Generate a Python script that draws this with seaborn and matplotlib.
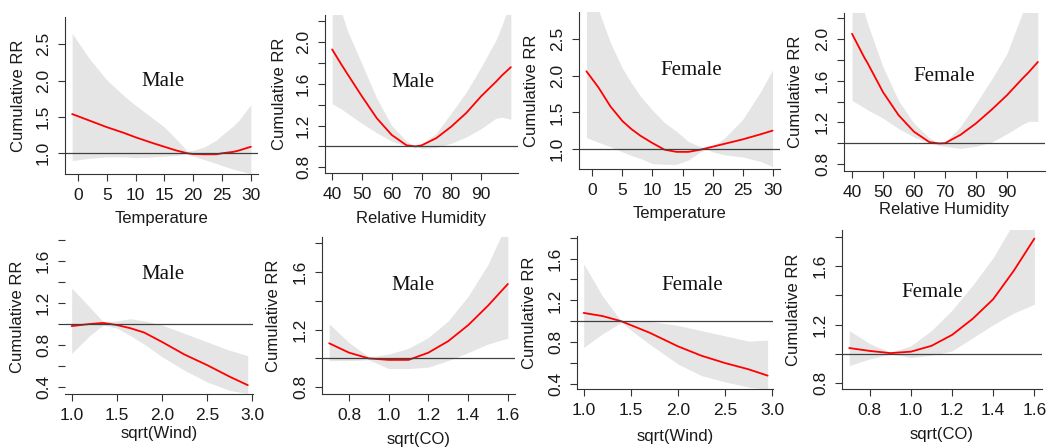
import numpy as np
import pandas as pd
import matplotlib
matplotlib.use("Agg")
import matplotlib.pyplot as plt
import seaborn as sns

# values (RR with lower / upper bounds)

# Temperature, male
temp_m_x = [-1, 2, 5, 8, 10, 13, 15, 17, 19, 20, 22, 24, 25, 27, 28, 30]
temp_m_rr = [1.54, 1.45, 1.36, 1.28, 1.22, 1.14, 1.09, 1.04, 1.0, 0.99, 0.986, 0.986, 1.0, 1.02, 1.04, 1.09]
temp_m_lo = [0.90, 0.93, 0.95, 0.95, 0.94, 0.95, 0.96, 0.97, 0.99, 0.96, 0.91, 0.86, 0.83, 0.78, 0.76, 0.72]
temp_m_hi = [2.65, 2.30, 2.01, 1.79, 1.66, 1.48, 1.36, 1.20, 1.03, 1.04, 1.09, 1.18, 1.25, 1.38, 1.46, 1.67]

# Relative humidity, male
rh_m_x = [40, 43, 45, 50, 55, 60, 65, 68, 70, 75, 80, 85, 90, 95, 97, 100]
rh_m_rr = [1.93, 1.79, 1.70, 1.48, 1.27, 1.11, 1.01, 1.0, 1.01, 1.08, 1.19, 1.32, 1.48, 1.62, 1.68, 1.76]
rh_m_lo = [1.41, 1.36, 1.32, 1.22, 1.13, 1.05, 1.0, 0.995, 0.98, 0.99, 1.03, 1.09, 1.17, 1.27, 1.28, 1.26]
rh_m_hi = [2.70, 2.30, 2.12, 1.79, 1.46, 1.20, 1.05, 1.0, 1.01, 1.13, 1.32, 1.52, 1.76, 2.02, 2.16, 2.40]

# Temperature, female
temp_f_x = [-1, 1, 3, 5, 6.5, 8, 10, 12, 14, 16, 18, 19, 20, 22, 25, 28, 30]
temp_f_rr = [2.06, 1.84, 1.58, 1.38, 1.27, 1.18, 1.08, 0.99, 0.96, 0.96, 0.99, 1.01, 1.03, 1.07, 1.13, 1.20, 1.25]
temp_f_lo = [1.155, 1.09, 1.03, 0.96, 0.91, 0.87, 0.80, 0.79, 0.79, 0.85, 0.96, 1.0, 0.96, 0.92, 0.89, 0.83, 0.76]
temp_f_hi = [3.40, 2.90, 2.45, 2.10, 1.90, 1.72, 1.53, 1.36, 1.24, 1.10, 1.03, 1.01, 1.03, 1.15, 1.40, 1.78, 2.08]

# Relative humidity, female
rh_f_x = [40, 44, 45, 50, 55, 60, 65, 68, 70, 75, 80, 85, 90, 95, 97, 100]
rh_f_rr = [2.05, 1.82, 1.77, 1.49, 1.27, 1.11, 1.01, 0.998, 1.0, 1.08, 1.19, 1.32, 1.46, 1.62, 1.68, 1.78]
rh_f_lo = [1.41, 1.34, 1.32, 1.24, 1.14, 1.06, 1.0, 0.98, 0.97, 0.95, 0.97, 1.01, 1.09, 1.18, 1.21, 1.21]
rh_f_hi = [2.80, 2.25, 2.15, 1.73, 1.41, 1.19, 1.05, 1.0, 1.01, 1.16, 1.38, 1.61, 1.86, 2.25, 2.40, 2.60]

# sqrt(Wind), male
wind_m_x = [1.0, 1.2, 1.35, 1.5, 1.65, 1.8, 2.0, 2.25, 2.5, 2.75, 2.95]
wind_m_rr = [0.98, 1.0, 1.01, 0.99, 0.96, 0.92, 0.83, 0.71, 0.61, 0.50, 0.42]
wind_m_lo = [0.72, 0.89, 0.99, 0.96, 0.89, 0.81, 0.69, 0.56, 0.45, 0.37, 0.34]
wind_m_hi = [1.34, 1.16, 1.02, 1.03, 1.05, 1.03, 0.99, 0.91, 0.83, 0.75, 0.70]

# sqrt(CO), male
co_m_x = [0.7, 0.8, 0.9, 1.0, 1.1, 1.2, 1.3, 1.4, 1.5, 1.6]
co_m_rr = [1.105, 1.04, 1.0, 0.99, 0.99, 1.04, 1.12, 1.23, 1.365, 1.515]
co_m_lo = [0.985, 0.985, 0.99, 0.93, 0.93, 0.94, 0.985, 1.04, 1.10, 1.14]
co_m_hi = [1.24, 1.11, 1.01, 1.03, 1.07, 1.145, 1.26, 1.43, 1.65, 1.95]

# sqrt(Wind), female
wind_f_x = [1.0, 1.2, 1.4, 1.55, 1.7, 2.0, 2.25, 2.5, 2.75, 2.95]
wind_f_rr = [1.08, 1.05, 1.0, 0.945, 0.89, 0.76, 0.67, 0.60, 0.54, 0.48]
wind_f_lo = [0.75, 0.88, 0.99, 0.88, 0.78, 0.59, 0.48, 0.42, 0.37, 0.35]
wind_f_hi = [1.55, 1.24, 1.0, 1.01, 1.0, 0.96, 0.91, 0.86, 0.81, 0.82]

# sqrt(CO), female
co_f_x = [0.7, 0.8, 0.9, 1.0, 1.1, 1.2, 1.3, 1.4, 1.5, 1.6]
co_f_rr = [1.04, 1.02, 1.005, 1.015, 1.055, 1.13, 1.24, 1.375, 1.57, 1.79]
co_f_lo = [0.92, 0.965, 1.0, 0.975, 0.99, 1.02, 1.11, 1.20, 1.28, 1.34]
co_f_hi = [1.16, 1.07, 1.01, 1.055, 1.16, 1.30, 1.47, 1.66, 1.90, 2.20]

x_labels = ["Temperature", "Relative Humidity", "Temperature", "Relative Humidity",
            "sqrt(Wind)", "sqrt(CO)", "sqrt(Wind)", "sqrt(CO)"]
sex_labels = ["Male", "Male", "Female", "Female", "Male", "Male", "Female", "Female"]

series = [
    (temp_m_x, temp_m_rr, temp_m_lo, temp_m_hi),
    (rh_m_x, rh_m_rr, rh_m_lo, rh_m_hi),
    (temp_f_x, temp_f_rr, temp_f_lo, temp_f_hi),
    (rh_f_x, rh_f_rr, rh_f_lo, rh_f_hi),
    (wind_m_x, wind_m_rr, wind_m_lo, wind_m_hi),
    (co_m_x, co_m_rr, co_m_lo, co_m_hi),
    (wind_f_x, wind_f_rr, wind_f_lo, wind_f_hi),
    (co_f_x, co_f_rr, co_f_lo, co_f_hi),
]

# layout of each panel (pixel box, limits, ticks, label spots)
W, H = 1056, 448
panels = [
    dict(box=(65, 17, 258, 174), xlim=(-2.24, 31.24), ylim=(0.715, 2.875),
         xt=[0, 5, 10, 15, 20, 25, 30], yt=[1.0, 1.5, 2.0, 2.5], every=1,
         title=(0.508, 0.59), ylab=19, xlab=218),
    dict(box=(325, 15, 518, 173), xlim=(37.6, 102.4), ylim=(0.745, 2.26),
         xt=[40, 50, 60, 70, 80, 90], yt=[0.8, 1.0, 1.2, 1.4, 1.6, 1.8, 2.0, 2.2], every=2,
         title=(0.457, 0.57), ylab=279, xlab=218),
    dict(box=(579, 12, 780, 169), xlim=(-2.24, 31.24), ylim=(0.726, 2.87),
         xt=[0, 5, 10, 15, 20, 25, 30], yt=[1.0, 1.5, 2.0, 2.5], every=1,
         title=(0.559, 0.63), ylab=531, xlab=213),
    dict(box=(844, 13, 1045, 171), xlim=(37.4, 102.3), ylim=(0.733, 2.25),
         xt=[40, 50, 60, 70, 80, 90], yt=[0.8, 1.0, 1.2, 1.4, 1.6, 1.8, 2.0, 2.2], every=2,
         title=(0.496, 0.597), ylab=796, xlab=209),
    dict(box=(65, 239, 253, 394), xlim=(0.926, 3.008), ylim=(0.336, 1.806),
         xt=[1.0, 1.5, 2.0, 2.5, 3.0], yt=[0.4, 0.6, 0.8, 1.0, 1.2, 1.4, 1.6, 1.8], every=2,
         title=(0.523, 0.77), ylab=18, xlab=433),
    dict(box=(322, 237, 515, 394), xlim=(0.664, 1.636), ylim=(0.754, 1.84),
         xt=[0.8, 1.0, 1.2, 1.4, 1.6], yt=[0.8, 1.0, 1.2, 1.4, 1.6, 1.8], every=2,
         title=(0.473, 0.694), ylab=274, xlab=439),
    dict(box=(577, 236, 773, 389), xlim=(0.929, 3.007), ylim=(0.352, 1.816),
         xt=[1.0, 1.5, 2.0, 2.5, 3.0], yt=[0.4, 0.6, 0.8, 1.0, 1.2, 1.4, 1.6, 1.8], every=2,
         title=(0.588, 0.678), ylab=530, xlab=436),
    dict(box=(842, 230, 1042, 389), xlim=(0.665, 1.637), ylim=(0.759, 1.849),
         xt=[0.8, 1.0, 1.2, 1.4, 1.6], yt=[0.8, 1.0, 1.2, 1.4, 1.6, 1.8], every=2,
         title=(0.45, 0.608), ylab=794, xlab=434),
]

sns.set_theme(style="ticks")
plt.rcParams["font.family"] = ["Liberation Sans", "DejaVu Sans"]
plt.rcParams["axes.edgecolor"] = "#333333"
plt.rcParams["xtick.color"] = "#333333"
plt.rcParams["ytick.color"] = "#333333"

fig = plt.figure(figsize=(W / 100, H / 100), dpi=100)
fig.patch.set_facecolor("white")

for i, (p, (x, rr, lo, hi)) in enumerate(zip(panels, series)):
    l, t, r, b = p["box"]
    ax = fig.add_axes([l / W, 1 - b / H, (r - l) / W, (b - t) / H])
    ax.set_facecolor("white")

    df = pd.DataFrame({"x": x, "rr": rr, "lo": lo, "hi": hi})
    ax.fill_between(df["x"], df["lo"], df["hi"], color="#e5e5e5", linewidth=0)
    sns.lineplot(data=df, x="x", y="rr", color="red", linewidth=1.3, ax=ax)
    ax.axhline(1.0, color="#404040", linewidth=0.9)

    ax.set_xlim(*p["xlim"])
    ax.set_ylim(*p["ylim"])
    ax.set_xticks(p["xt"])
    ax.set_xticklabels([f"{v:g}" if i in (0, 1, 2, 3) else f"{v:.1f}" for v in p["xt"]])
    ax.set_yticks(p["yt"])
    if p["every"] == 1:
        ax.set_yticklabels([f"{v:.1f}" for v in p["yt"]])
    else:
        ax.set_yticklabels([f"{v:.1f}" if round(v * 10) % 4 == 0 else "" for v in p["yt"]])
    ax.tick_params(axis="both", direction="out", length=5, width=0.8, labelsize=12.5,
                   pad=5, labelcolor="#1a1a1a")
    ax.tick_params(axis="y", labelrotation=90)
    for lab in ax.get_yticklabels():
        lab.set_va("center")
    ax.set_xlabel("")
    ax.set_ylabel("")
    sns.despine(ax=ax)
    ax.spines["left"].set_linewidth(0.8)
    ax.spines["bottom"].set_linewidth(0.8)
    if i == 4:
        ax.spines["left"].set_visible(False)

    ax.text(p["title"][0], p["title"][1], sex_labels[i], transform=ax.transAxes,
            ha="center", va="center", fontsize=15, color="#111111",
            family=["Liberation Serif", "DejaVu Serif"])

    fig.text(p["ylab"] / W, 1 - ((t + b) / 2) / H, "Cumulative RR", rotation=90,
             ha="center", va="center", fontsize=12, color="#1a1a1a")
    fig.text(((l + r) / 2) / W, 1 - p["xlab"] / H, x_labels[i],
             ha="center", va="center", fontsize=12, color="#1a1a1a")

fig.savefig("out.png", dpi=100, facecolor="white")
